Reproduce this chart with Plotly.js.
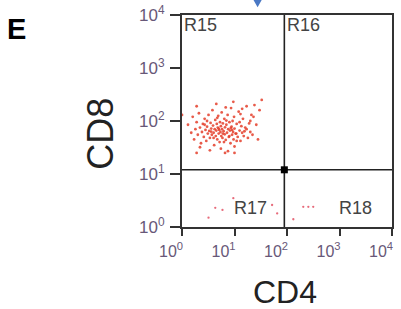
<!DOCTYPE html>
<html>
<head>
<meta charset="utf-8">
<script src="https://cdn.plot.ly/plotly-3.0.1.min.js"></script>
<style>html,body{margin:0;padding:0;background:#fff}#chart{width:401px;height:309px}</style>
</head>
<body>
<div id="chart"></div>
<script>
// CD4 / CD8 flow cytometry events (upper-left cluster, R15)
const clusterCD4 = [1.3,1.5,1.6,1.7,1.8,1.9,2.0,2.1,2.2,2.3,
2.4,2.5,2.6,2.7,2.8,2.9,3.0,3.1,3.2,3.3,
3.4,3.5,3.6,3.7,3.8,3.9,4.0,4.1,4.2,4.3,
4.4,4.5,4.6,4.7,4.8,4.9,5.0,5.1,5.2,5.3,
5.4,5.5,5.6,5.7,5.8,5.9,6.0,6.2,6.4,6.5,
6.6,6.8,7.0,7.2,7.4,7.6,7.8,8.0,8.2,8.4,
8.6,8.8,9.0,9.2,9.4,9.6,9.8,10,10.5,11,
11.5,12,12.5,13,13.5,14,14.5,15,16,17,
18,19,20,21,22,24,26,28,30,33,
2.2,3.4,5.5,7.5,10,1.9,4.5,6.8,9.5,14,
3.0,4.0,5.0,6.0,7.0,8.0,9.0,11,12.5,15.5,
2.7,3.6,4.7,6.3,8.5,10.8,13,17,20,23,
1.0,1.9,6.6,10];
const clusterCD8 = [85,60,120,45,70,95,55,140,75,38,
62,88,50,110,68,42,78,58,130,65,
48,92,72,55,160,82,60,35,70,105,
52,66,88,45,75,125,58,68,40,95,
62,80,52,145,70,48,90,64,110,56,
76,44,85,60,130,70,50,95,66,38,
175,78,55,100,62,45,120,72,58,88,
50,150,66,42,80,60,110,52,75,190,
48,90,62,130,55,200,85,45,160,250,
32,28,30,27,33,190,210,180,230,170,
100,48,72,58,102,52,68,42,95,64,
85,63,115,40,74,58,135,70,100,120,
130,25,25,25];
// sparse events in lower quadrants (R17, R18)
const lowCD4 = [3.2,4.3,5.9,9.5,52,65,132,204,255,316];
const lowCD8 = [1.5,2.3,2.1,3.5,2.6,1.8,1.4,2.4,2.4,2.4];
// quadrant gate
const gateCD4 = 89;
const gateCD8 = 12;
const tickVals = [1,10,100,1000,10000];
const tickText = ['10<sup>0</sup>','10<sup>1</sup>','10<sup>2</sup>','10<sup>3</sup>','10<sup>4</sup>'];
const regionNames = ['R15','R16','R17','R18'];

const ptColor = 'rgba(228,62,42,0.85)';
const traces = [
  {x: clusterCD4, y: clusterCD8, type:'scatter', mode:'markers', marker:{size:2.8, color:ptColor}, hoverinfo:'x+y'},
  {x: lowCD4, y: lowCD8, type:'scatter', mode:'markers', marker:{size:2.3, color:'rgba(225,70,90,0.8)'}, hoverinfo:'x+y'},
  {x:[gateCD4,gateCD4], y:[1,10000], type:'scatter', mode:'lines', line:{color:'#222', width:1.6}, hoverinfo:'skip'},
  {x:[1,10000], y:[gateCD8,gateCD8], type:'scatter', mode:'lines', line:{color:'#222', width:1.6}, hoverinfo:'skip'},
  {x:[gateCD4], y:[gateCD8], type:'scatter', mode:'markers', marker:{symbol:'square', size:7, color:'#000'}, hoverinfo:'skip'}
];

const axisCommon = {
  type:'log', range:[0,4], tickmode:'array', tickvals:tickVals, ticktext:tickText,
  ticks:'outside', tickwidth:2, tickcolor:'#333', showticklabels:true,
  showline:true, linecolor:'#333', linewidth:2, mirror:true,
  showgrid:false, zeroline:false
};

const layout = {
  width:401, height:309,
  margin:{l:182, r:9, t:15, b:82},
  paper_bgcolor:'#fff', plot_bgcolor:'#fff',
  font:{family:'Liberation Sans, Arial, sans-serif'},
  showlegend:false,
  xaxis: Object.assign({}, axisCommon, {title:{text:''}, ticklen:7, ticklabelshift:-11, ticklabelstandoff:2, tickfont:{size:16, color:'#685878'}}),
  yaxis: Object.assign({}, axisCommon, {title:{text:''}, ticklen:10, ticklabelstandoff:2, tickfont:{size:17, color:'#685878'}}),
  annotations:[
    {text:'CD4', xref:'paper', yref:'paper', x:0.49, y:-0.305, xanchor:'center', yanchor:'middle', showarrow:false, font:{size:32, color:'#222'}},
    {text:'CD8', xref:'paper', yref:'paper', x:-0.385, y:0.44, xanchor:'center', yanchor:'middle', textangle:-90, showarrow:false, font:{size:36, color:'#222'}},
    {text:'<b>E</b>', xref:'paper', yref:'paper', x:-0.845, y:0.936, xanchor:'left', yanchor:'middle', showarrow:false, font:{size:29, color:'#000'}},
    {text:regionNames[0], x:0, y:Math.log10(6500), xref:'x', yref:'y', xanchor:'left', yanchor:'middle', showarrow:false, font:{size:18, color:'#444'}},
    {text:regionNames[1], x:Math.log10(gateCD4)+0.02, y:Math.log10(6500), xref:'x', yref:'y', xanchor:'left', yanchor:'middle', showarrow:false, font:{size:18, color:'#444'}},
    {text:regionNames[2], x:Math.log10(gateCD4)-1.0, y:Math.log10(2.3), xref:'x', yref:'y', xanchor:'left', yanchor:'middle', showarrow:false, font:{size:18, color:'#444'}},
    {text:regionNames[3], x:Math.log10(gateCD4)+1.0, y:Math.log10(2.3), xref:'x', yref:'y', xanchor:'left', yanchor:'middle', showarrow:false, font:{size:18, color:'#444'}}
  ],
  shapes:[
    {type:'path', xref:'paper', yref:'paper', path:'M 0.338 1.075 L 0.382 1.075 L 0.36 1.036 Z', fillcolor:'#4a78c4', line:{width:0}}
  ]
};

Plotly.newPlot('chart', traces, layout, {displayModeBar:false, staticPlot:true});
</script>
</body>
</html>
